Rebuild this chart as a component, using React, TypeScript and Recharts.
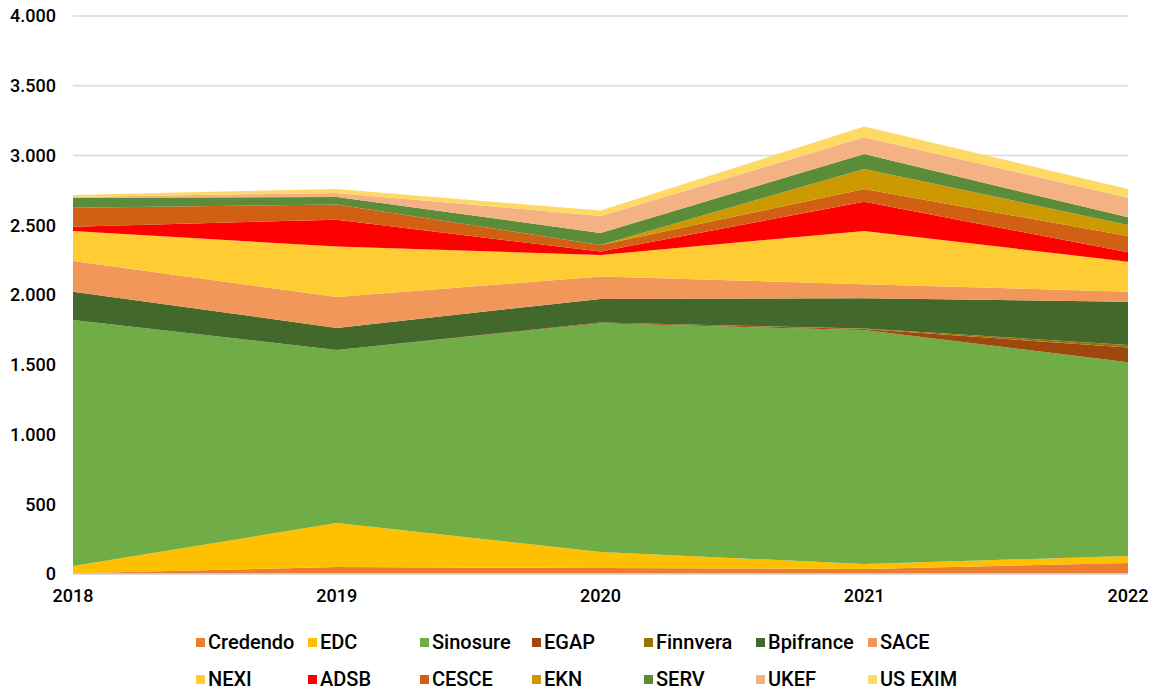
import React from 'react';
import { AreaChart, Area, XAxis, YAxis, CartesianGrid } from 'recharts';

// Years on the x axis
const years = ['2018', '2019', '2020', '2021', '2022'];

// Series values (stacked)
const credendo = [5, 50, 43, 36, 79];
const edc = [52, 316, 115, 36, 50];
const sinosure = [1764, 1240, 1639, 1677, 1389];
const egap = [0, 0, 5, 8, 105];
const finnvera = [0, 0, 0, 3, 19];
const bpifrance = [203, 158, 170, 217, 310];
const sace = [220, 222, 160, 100, 72];
const nexi = [215, 361, 155, 382, 215];
const adsb = [31, 193, 24, 210, 67];
const cesce = [136, 108, 48, 91, 117];
const ekn = [0, 0, 0, 144, 79];
const serv = [72, 55, 86, 107, 55];
const ukef = [5, 29, 122, 120, 141];
const usExim = [14, 28, 38, 77, 62];

const yTicks = [0, 500, 1000, 1500, 2000, 2500, 3000, 3500, 4000];

const series = [
  { key: 'Credendo', values: credendo, color: '#ED7D31' },
  { key: 'EDC', values: edc, color: '#FFC000' },
  { key: 'Sinosure', values: sinosure, color: '#70AD47' },
  { key: 'EGAP', values: egap, color: '#9E480E' },
  { key: 'Finnvera', values: finnvera, color: '#997300' },
  { key: 'Bpifrance', values: bpifrance, color: '#43682B' },
  { key: 'SACE', values: sace, color: '#F1975A' },
  { key: 'NEXI', values: nexi, color: '#FFCD33' },
  { key: 'ADSB', values: adsb, color: '#FF0000' },
  { key: 'CESCE', values: cesce, color: '#D26012' },
  { key: 'EKN', values: ekn, color: '#CC9A00' },
  { key: 'SERV', values: serv, color: '#5B8C3A' },
  { key: 'UKEF', values: ukef, color: '#F4B183' },
  { key: 'US EXIM', values: usExim, color: '#FFD966' },
];

const data = years.map((year, i) => {
  const row: Record<string, any> = { year };
  series.forEach(s => {
    row[s.key] = s.values[i];
  });
  return row;
});

const FONT = 'Roboto, "DejaVu Sans", sans-serif';

const formatThousands = (v: number) =>
  v.toString().replace(/\B(?=(\d{3})+(?!\d))/g, '.');

const App: React.FC = () => {
  return (
    <div
      style={{
        position: 'absolute',
        left: 0,
        top: 0,
        width: 1150,
        height: 693,
        background: '#fff',
        fontFamily: FONT,
      }}
    >
      <AreaChart
        width={1150}
        height={610}
        data={data}
        margin={{ top: 16, right: 22, left: 0, bottom: 6 }}
      >
        <CartesianGrid vertical={false} stroke="#D9D9D9" strokeWidth={1.3} />
        <XAxis
          dataKey="year"
          height={30}
          tickLine={false}
          axisLine={{ stroke: '#D9D9D9', strokeWidth: 1.3 }}
          tickMargin={9}
          tick={{ fill: '#000', fontSize: 18, fontWeight: 500, fontFamily: FONT }}
        />
        <YAxis
          width={73}
          domain={[0, 4000]}
          ticks={yTicks}
          tickFormatter={formatThousands}
          tickLine={false}
          axisLine={false}
          tickMargin={11}
          tick={{ fill: '#000', fontSize: 18, fontWeight: 500, fontFamily: FONT }}
        />
        {series.map(s => (
          <Area
            key={s.key}
            type="linear"
            dataKey={s.key}
            stackId="1"
            stroke="none"
            fill={s.color}
            fillOpacity={1}
            isAnimationActive={false}
          />
        ))}
      </AreaChart>

      {/* legend: 2 rows x 7 columns like the Excel layout */}
      <div
        style={{
          position: 'absolute',
          left: 196,
          top: 628,
          display: 'grid',
          gridTemplateColumns: 'repeat(7, 112px)',
          rowGap: 9,
        }}
      >
        {series.map(s => (
          <div
            key={s.key}
            style={{
              display: 'flex',
              alignItems: 'center',
              height: 28,
              fontSize: 20,
              fontWeight: 500,
              color: '#000',
              whiteSpace: 'nowrap',
            }}
          >
            <span
              style={{
                width: 9,
                height: 9,
                background: s.color,
                marginRight: 3,
                display: 'inline-block',
              }}
            />
            {s.key}
          </div>
        ))}
      </div>
    </div>
  );
};

export default App;
